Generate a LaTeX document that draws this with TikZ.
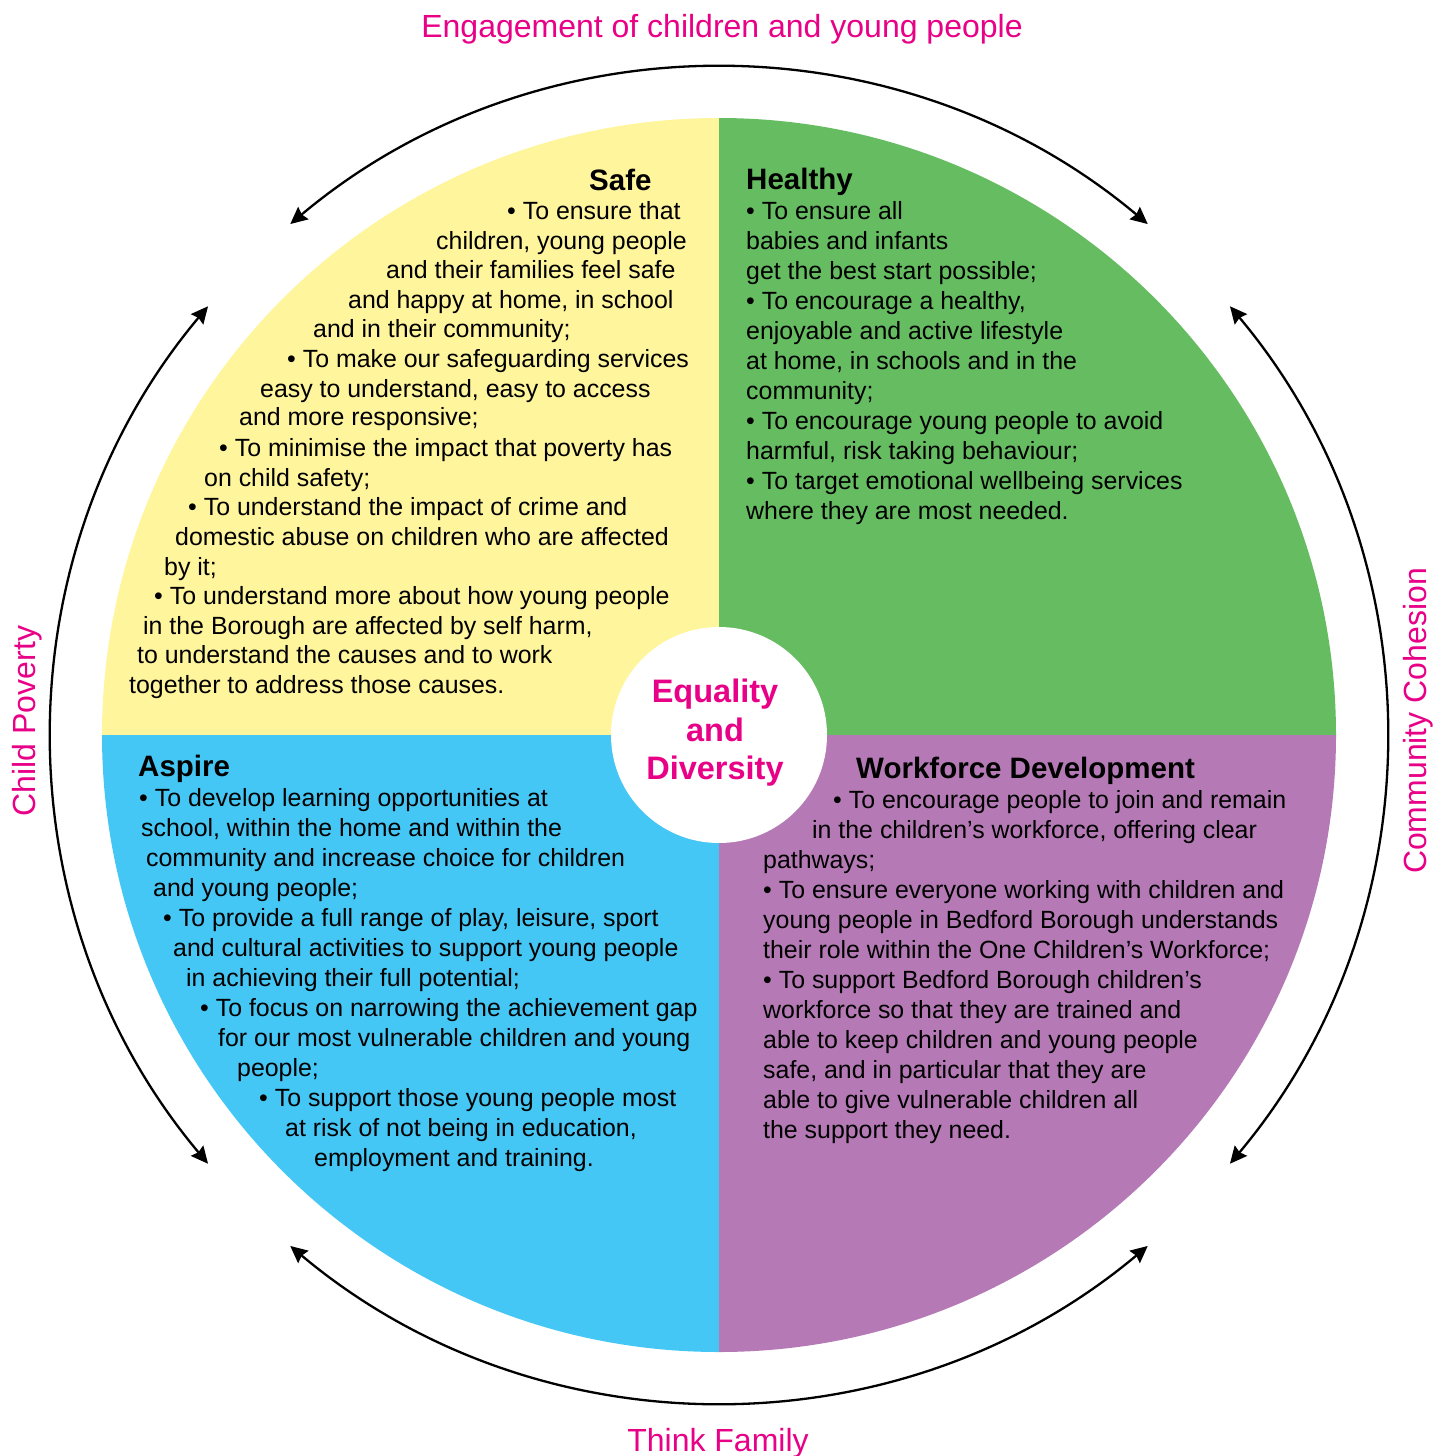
\documentclass[tikz,border=0pt]{standalone}
\usepackage{fontspec}
\setmainfont{Liberation Sans}
\usetikzlibrary{arrows.meta}
\definecolor{safeyellow}{rgb}{1.0,0.96,0.61}
\definecolor{healthgreen}{rgb}{0.40,0.74,0.38}
\definecolor{aspireblue}{rgb}{0.27,0.78,0.96}
\definecolor{workpurple}{rgb}{0.71,0.48,0.71}
\definecolor{themepink}{rgb}{0.91,0.0,0.53}

\begin{document}
\begin{tikzpicture}[x=1pt, y=-1pt, >={Stealth[length=17pt,width=16pt,inset=2pt]},
	txt/.style={anchor=base west, inner sep=0pt, font=\fontsize{24.9}{30}\selectfont},
	headline/.style={anchor=base west, inner sep=0pt, font=\fontsize{29.5}{35}\selectfont\bfseries},
	themetext/.style={anchor=base, inner sep=0pt, text=themepink, font=\fontsize{32}{38}\selectfont},
	ringarrow/.style={line width=2.3pt, <->}]

				\useasboundingbox (0,0) rectangle (1447,1456);
				\coordinate (hub) at (719,735);

				% the four quarters and the hole in the middle
				\begin{scope}
				\clip (hub) circle (617);
				\fill[safeyellow] (hub) rectangle ++(-620,-620);
				\fill[healthgreen] (hub) rectangle ++(620,-620);
				\fill[aspireblue] (hub) rectangle ++(-620,620);
				\fill[workpurple] (hub) rectangle ++(620,620);
				\end{scope}
				\fill[white] (hub) circle (108);

				% outer ring of arrows (y points down here, so angles are mirrored)
				\draw[ringarrow] ([shift={(-130:667)}]hub) arc[start angle=-130, end angle=-50, radius=667];
				\draw[ringarrow] ([shift={(-40:667)}]hub) arc[start angle=-40, end angle=40, radius=667];
				\draw[ringarrow] ([shift={(130:667)}]hub) arc[start angle=130, end angle=50, radius=667];
				\draw[ringarrow] ([shift={(220:667)}]hub) arc[start angle=220, end angle=140, radius=667];

				\node[themetext] (engage) at (722,37) {Engagement of children and young people};
				\node[themetext] (family) at (718,1451) {Think Family};
				\node[themetext, rotate=90] (poverty) at (35,721) {Child Poverty};
				\node[themetext, rotate=90] (cohesion) at (1426,721) {Community Cohesion};

				\node[align=center, inner sep=0pt, text=themepink, font=\fontsize{32.5}{38.5}\selectfont\bfseries] (equal) at (715,733) {Equality\\and\\Diversity};

				% Safe
				\node[headline] (safe) at (589,190) {Safe};
				\node[txt] (s1) at (507,219) {• To ensure that};
				\node[txt] (s2) at (436,249) {children, young people};
				\node[txt] (s3) at (386,278) {and their families feel safe};
				\node[txt] (s4) at (348,308) {and happy at home, in school};
				\node[txt] (s5) at (313,337) {and in their community;};
				\node[txt] (s6) at (287,367) {• To make our safeguarding services};
				\node[txt] (s7) at (260,397) {easy to understand, easy to access};
				\node[txt] (s8) at (239,425) {and more responsive;};
				\node[txt] (s9) at (219,456) {• To minimise the impact that poverty has};
				\node[txt] (s10) at (204,486) {on child safety;};
				\node[txt] (s11) at (188,515) {• To understand the impact of crime and};
				\node[txt] (s12) at (175,545) {domestic abuse on children who are affected};
				\node[txt] (s13) at (164,575) {by it;};
				\node[txt] (s14) at (154,604) {• To understand more about how young people};
				\node[txt] (s15) at (143,634) {in the Borough are affected by self harm,};
				\node[txt] (s16) at (137,663) {to understand the causes and to work};
				\node[txt] (s17) at (129,693) {together to address those causes.};

				% Healthy
				\node[headline] (healthy) at (746,189) {Healthy};
				\node[txt] (h1) at (746,219) {• To ensure all};
				\node[txt] (h2) at (746,249) {babies and infants};
				\node[txt] (h3) at (746,279) {get the best start possible;};
				\node[txt] (h4) at (746,309) {• To encourage a healthy,};
				\node[txt] (h5) at (746,339) {enjoyable and active lifestyle};
				\node[txt] (h6) at (746,369) {at home, in schools and in the};
				\node[txt] (h7) at (746,399) {community;};
				\node[txt] (h8) at (746,429) {• To encourage young people to avoid};
				\node[txt] (h9) at (746,459) {harmful, risk taking behaviour;};
				\node[txt] (h10) at (746,489) {• To target emotional wellbeing services};
				\node[txt] (h11) at (746,519) {where they are most needed.};

				% Aspire
				\node[headline] (aspire) at (138,776) {Aspire};
				\node[txt] (a1) at (139,806) {• To develop learning opportunities at};
				\node[txt] (a2) at (141,836) {school, within the home and within the};
				\node[txt] (a3) at (146,866) {community and increase choice for children};
				\node[txt] (a4) at (153,896) {and young people;};
				\node[txt] (a5) at (163,926) {• To provide a full range of play, leisure, sport};
				\node[txt] (a6) at (173,956) {and cultural activities to support young people};
				\node[txt] (a7) at (186,986) {in achieving their full potential;};
				\node[txt] (a8) at (200,1016) {• To focus on narrowing the achievement gap};
				\node[txt] (a9) at (218,1046) {for our most vulnerable children and young};
				\node[txt] (a10) at (237,1076) {people;};
				\node[txt] (a11) at (259,1106) {• To support those young people most};
				\node[txt] (a12) at (285,1136) {at risk of not being in education,};
				\node[txt] (a13) at (314,1166) {employment and training.};

				% Workforce Development
				\node[headline] (workforce) at (856,778) {Workforce Development};
				\node[txt] (w1) at (833,808) {• To encourage people to join and remain};
				\node[txt] (w2) at (812,838) {in the children’s workforce, offering clear};
				\node[txt] (w3) at (763,868) {pathways;};
				\node[txt] (w4) at (763,898) {• To ensure everyone working with children and};
				\node[txt] (w5) at (763,928) {young people in Bedford Borough understands};
				\node[txt] (w6) at (763,958) {their role within the One Children’s Workforce;};
				\node[txt] (w7) at (763,988) {• To support Bedford Borough children’s};
				\node[txt] (w8) at (763,1018) {workforce so that they are trained and};
				\node[txt] (w9) at (763,1048) {able to keep children and young people};
				\node[txt] (w10) at (763,1078) {safe, and in particular that they are};
				\node[txt] (w11) at (763,1108) {able to give vulnerable children all};
				\node[txt] (w12) at (763,1138) {the support they need.};

\end{tikzpicture}
\end{document}
